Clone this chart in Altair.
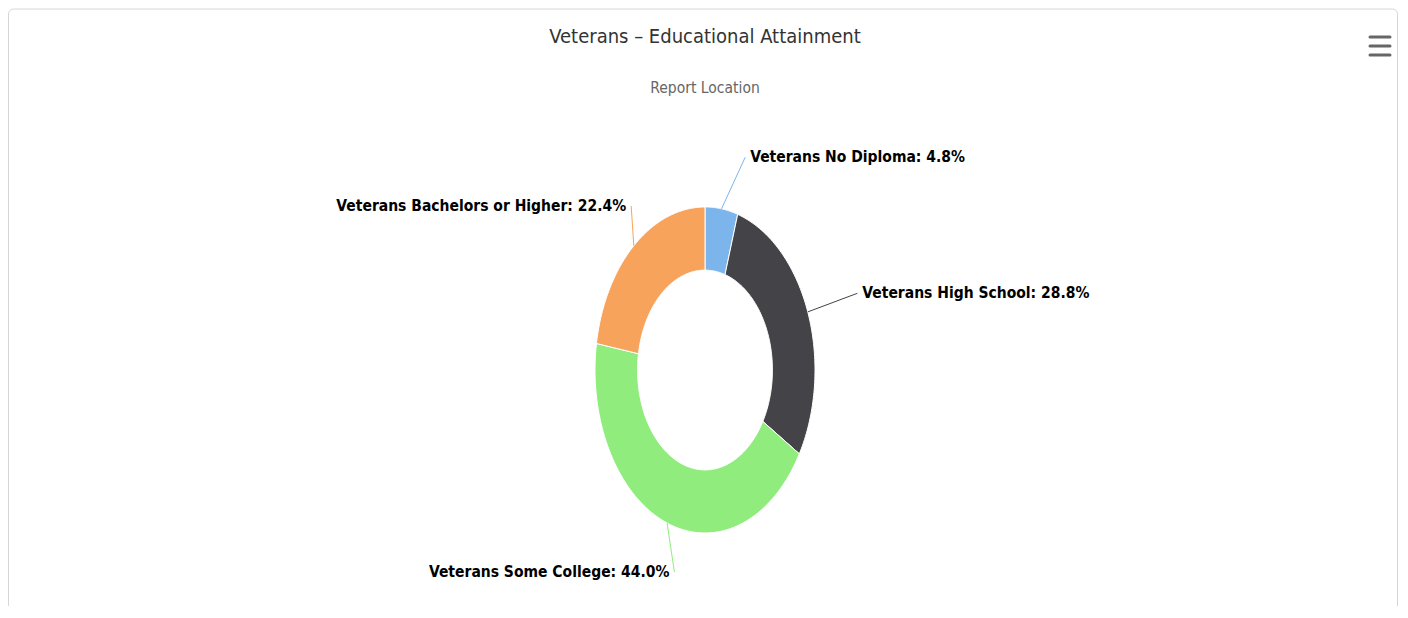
import altair as alt
import pandas as pd

# ---- data ----
categories = ["Veterans No Diploma", "Veterans High School", "Veterans Some College", "Veterans Bachelors or Higher"]
values = [4.8, 28.8, 44.0, 22.4]
colors = ["#7cb5ec", "#434348", "#90ed7d", "#f7a35c"]
title_text = "Veterans – Educational Attainment"
subtitle_text = "Report Location"

df = pd.DataFrame({"cat": categories, "value": values, "idx": list(range(len(categories)))})

# ---- layout constants (plot area in px) ----
W, H = 1390, 598
CX, CY = 697, 362          # donut centre in the view
RX, RY = 110, 163          # outer radii (the reference is horizontally squashed)
INNER = 0.613              # inner / outer radius
N = 90                     # segments per arc
KL = 1.32                  # label distance factor
SHIFT = 0.17               # label horizontal shift (in rx units)

FONT = "Liberation Sans Narrow, DejaVu Sans Condensed, Liberation Sans, sans-serif"

xscale = alt.Scale(domain=[-CX / RX, (W - CX) / RX], nice=False, zero=False)
yscale = alt.Scale(domain=[-(H - CY) / RY, CY / RY], nice=False, zero=False)
cscale = alt.Scale(domain=categories, range=colors)

base = (
    alt.Chart(df)
    .transform_joinaggregate(total="sum(value)")
    .transform_window(cum="sum(value)", sort=[alt.SortField("idx")], frame=[None, 0])
    .transform_calculate(
        a0="2*PI*(datum.cum - datum.value)/datum.total",
        a1="2*PI*datum.cum/datum.total",
    )
    .transform_calculate(amid="(datum.a0 + datum.a1)/2")
)

# donut slices as closed polygons (outer arc forward, inner arc back)
donut = (
    base.transform_calculate(t=f"sequence(0, {2 * N + 3})")
    .transform_flatten(["t"])
    .transform_calculate(
        ang=f"datum.t <= {N} ? datum.a0 + (datum.a1 - datum.a0) * datum.t / {N} : "
            f"(datum.t == {2 * N + 2} ? datum.a0 : datum.a1 - (datum.a1 - datum.a0) * (datum.t - {N + 1}) / {N})",
        r=f"(datum.t <= {N} || datum.t == {2 * N + 2}) ? 1 : {INNER}",
    )
    .transform_calculate(px="datum.r * sin(datum.ang)", py="datum.r * cos(datum.ang)")
    .mark_line(stroke="white", strokeWidth=1, strokeJoin="round")
    .encode(
        x=alt.X("px:Q", scale=xscale, axis=None),
        y=alt.Y("py:Q", scale=yscale, axis=None),
        order=alt.Order("t:Q"),
        detail="cat:N",
        fill=alt.Fill("cat:N", scale=cscale, legend=None),
    )
)

lab = base.transform_calculate(
    ex="sin(datum.amid)",
    ey="cos(datum.amid)",
    lx=f"1.3 * sin(datum.amid) + {SHIFT}",
    ly=f"{KL} * cos(datum.amid)",
    label="datum.cat + ': ' + format(datum.value, '.1f') + '%'",
)

connectors = lab.mark_rule(strokeWidth=1).encode(
    x=alt.X("ex:Q", scale=xscale, axis=None),
    y=alt.Y("ey:Q", scale=yscale, axis=None),
    x2="lx:Q",
    y2="ly:Q",
    color=alt.Color("cat:N", scale=cscale, legend=None),
)

LABEL_SIZE = 15.5

text_right = lab.transform_filter("sin(datum.amid) >= 0").mark_text(
    align="left", baseline="middle", dx=5, font=FONT, fontSize=LABEL_SIZE, fontWeight="bold", color="#000000"
).encode(
    x=alt.X("lx:Q", scale=xscale, axis=None),
    y=alt.Y("ly:Q", scale=yscale, axis=None),
    text="label:N",
)

text_left = lab.transform_filter("sin(datum.amid) < 0").mark_text(
    align="right", baseline="middle", dx=-5, font=FONT, fontSize=LABEL_SIZE, fontWeight="bold", color="#000000"
).encode(
    x=alt.X("lx:Q", scale=xscale, axis=None),
    y=alt.Y("ly:Q", scale=yscale, axis=None),
    text="label:N",
)

one = pd.DataFrame({"k": [0]})

border = alt.Chart(one).mark_rect(
    fill="white", stroke="#d6d6d6", strokeWidth=1, cornerRadius=5
).encode(x=alt.value(0.5), x2=alt.value(W - 0.5), y=alt.value(1), y2=alt.value(H + 40))

title = alt.Chart(pd.DataFrame({"t": [title_text]})).mark_text(
    align="center", baseline="middle", font=FONT, fontSize=20, color="#333333"
).encode(x=alt.value(CX), y=alt.value(29), text="t:N")

subtitle = alt.Chart(pd.DataFrame({"t": [subtitle_text]})).mark_text(
    align="center", baseline="middle", font=FONT, fontSize=15.5, color="#666666"
).encode(x=alt.value(CX), y=alt.value(80), text="t:N")

menu = [
    alt.Chart(one).mark_rule(stroke="#666666", strokeWidth=3, strokeCap="round").encode(
        x=alt.value(1362), x2=alt.value(1382), y=alt.value(yy)
    )
    for yy in (29, 38, 47)
]

chart = (
    alt.layer(border, donut, connectors, text_right, text_left, title, subtitle, *menu)
    .properties(width=W, height=H, padding=0, autosize="none", background="white")
    .configure_view(strokeWidth=0)
)

chart.save("out.html", embed_options={"renderer": "svg", "actions": False})
